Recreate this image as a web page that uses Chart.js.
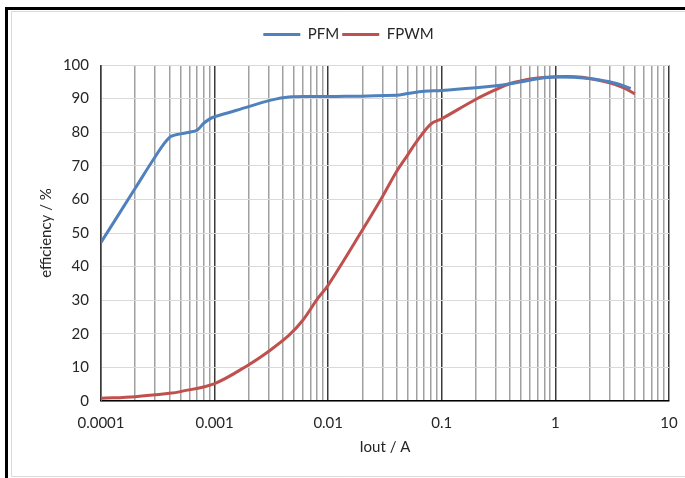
<!DOCTYPE html>
<html>
<head>
<meta charset="utf-8">
<script src="https://cdn.jsdelivr.net/npm/chart.js@4"></script>
<style>
html,body{margin:0;padding:0;background:#fff;}
#wrap{position:relative;width:685px;height:478px;}
</style>
</head>
<body>
<div id="wrap"><canvas id="c" width="685" height="478"></canvas></div>
<script>
// ---- data ----
const pfmCurrent = [0.0001, 0.0002, 0.0003, 0.0004, 0.0005, 0.0006, 0.0007, 0.0008, 0.0009, 0.001, 0.002, 0.003, 0.0045, 0.01, 0.04, 0.05, 0.07, 0.1, 0.2, 0.3, 0.4, 0.5, 0.7, 1, 2, 3, 4, 4.6];
const pfmEff     = [47.2, 63.3, 72.7, 78.4, 79.5, 80.0, 80.6, 82.6, 83.9, 84.6, 87.6, 89.4, 90.5, 90.6, 91.0, 91.5, 92.2, 92.4, 93.2, 93.8, 94.4, 95.0, 95.9, 96.4, 96.0, 95.0, 93.8, 93.0];
const fpwmCurrent = [0.0001, 0.0002, 0.0004, 0.0005, 0.001, 0.002, 0.003, 0.0045, 0.006, 0.008, 0.01, 0.02, 0.03, 0.04, 0.05, 0.06, 0.08, 0.1, 0.2, 0.3, 0.4, 0.5, 0.7, 1, 1.5, 2, 3, 4, 5];
const fpwmEff     = [0.8, 1.3, 2.3, 2.8, 5.2, 10.8, 14.8, 19.5, 24.1, 30.3, 34.5, 50.9, 60.8, 68.3, 73.2, 77.2, 82.4, 84.0, 89.8, 92.7, 94.5, 95.3, 96.1, 96.5, 96.5, 96.0, 94.7, 93.2, 91.4];
const seriesNames = ['PFM', 'FPWM'];
const xDecades    = [0.0001, 0.001, 0.01, 0.1, 1, 10];
const xTickLabels = ['0.0001', '0.001', '0.01', '0.1', '1', '10'];
const yTickValues = [0, 10, 20, 30, 40, 50, 60, 70, 80, 90, 100];
const xTitle = 'Iout / A';
const yTitle = 'efficiency / %';

// ---- build tick lists (gridlines at 1..9 of each decade) ----
const xGridValues = [];
for (let i = 0; i < xDecades.length - 1; i++) {
  for (let m = 1; m <= 9; m++) xGridValues.push(+(xDecades[i] * m).toPrecision(6));
}
xGridValues.push(xDecades[xDecades.length - 1]);

function decadeIndex(v) {
  for (let i = 0; i < xDecades.length; i++) {
    if (Math.abs(v - xDecades[i]) / xDecades[i] < 1e-6) return i;
  }
  return -1;
}

const FONT = 'Lato, "Open Sans", sans-serif';
const TEXT = '#262626';

const framePlugin = {
  id: 'frame',
  beforeDraw(chart) {
    const ctx = chart.ctx;
    ctx.save();
    ctx.fillStyle = '#fff';
    ctx.fillRect(0, 0, chart.width, chart.height);
    ctx.strokeStyle = '#d9d9d9';
    ctx.lineWidth = 1;
    ctx.beginPath();
    ctx.moveTo(chart.width + 5, 11.5);
    ctx.lineTo(11.5, 11.5);
    ctx.lineTo(11.5, 476.5);
    ctx.lineTo(chart.width + 5, 476.5);
    ctx.stroke();
    ctx.fillStyle = '#000';
    ctx.fillRect(5, 7, chart.width, 3);
    ctx.fillRect(5, 7, 3, chart.height);
    ctx.restore();
  }
};

const legendPlacePlugin = {
  id: 'legendPlace',
  beforeInit(chart) {
    const origFit = chart.legend.fit;
    chart.legend.fit = function () {
      origFit.call(this);
      this.height = 41;
    };
  },
  afterLayout(chart) {
    const lg = chart.legend;
    if (lg) { lg.left += 14; lg.right += 14; }
  }
};

new Chart(document.getElementById('c'), {
  type: 'line',
  data: {
    datasets: [
      {
        label: seriesNames[0],
        data: pfmCurrent.map((x, i) => ({ x: x, y: pfmEff[i] })),
        borderColor: '#4F81BD',
        backgroundColor: '#4F81BD',
        borderWidth: 3,
        pointRadius: 0,
        tension: 0.35,
        fill: false
      },
      {
        label: seriesNames[1],
        data: fpwmCurrent.map((x, i) => ({ x: x, y: fpwmEff[i] })),
        borderColor: '#C0504D',
        backgroundColor: '#C0504D',
        borderWidth: 3,
        pointRadius: 0,
        tension: 0.35,
        fill: false
      }
    ]
  },
  options: {
    responsive: false,
    animation: false,
    devicePixelRatio: 1,
    layout: { padding: { top: 24, left: 0, right: 16, bottom: 0 } },
    plugins: {
      legend: {
        position: 'top',
        align: 'center',
        labels: {
          usePointStyle: true,
          pointStyle: 'line',
          pointStyleWidth: 37,
          padding: 3,
          color: TEXT,
          font: { family: FONT, size: 15 }
        }
      },
      tooltip: { enabled: false }
    },
    scales: {
      x: {
        type: 'logarithmic',
        min: xDecades[0],
        max: xDecades[xDecades.length - 1],
        afterBuildTicks(scale) {
          scale.ticks = xGridValues.map(v => ({ value: v, major: decadeIndex(v) >= 0 }));
        },
        afterFit(scale) { scale.height = 77; scale.paddingRight = 0; },
        ticks: {
          autoSkip: false,
          maxRotation: 0,
          padding: 13,
          color: TEXT,
          font: { family: FONT, size: 15 },
          callback(value) {
            const i = decadeIndex(value);
            return i >= 0 ? xTickLabels[i] : '';
          }
        },
        grid: {
          drawTicks: false,
          lineWidth: 1.5,
          color(ctx) {
            if (!ctx.tick) return '#a0a0a0';
            return decadeIndex(ctx.tick.value) >= 0 ? '#3a3a3a' : '#a0a0a0';
          }
        },
        border: { display: true, color: '#000', width: 1.5 },
        title: {
          display: true,
          text: xTitle,
          color: TEXT,
          font: { family: FONT, size: 15 },
          padding: { top: 0, bottom: 22 }
        }
      },
      y: {
        z: -1,
        min: yTickValues[0],
        max: yTickValues[yTickValues.length - 1],
        afterBuildTicks(scale) {
          scale.ticks = yTickValues.map(v => ({ value: v }));
        },
        afterFit(scale) { scale.width = 101; },
        ticks: {
          padding: 12,
          color: TEXT,
          font: { family: FONT, size: 15 }
        },
        grid: { drawTicks: false, color: '#d9d9d9', lineWidth: 1 },
        border: { display: true, color: '#6f6f6f', width: 1 },
        title: {
          display: true,
          text: yTitle,
          color: TEXT,
          font: { family: FONT, size: 15 },
          padding: { top: 37, bottom: 0 }
        }
      }
    }
  },
  plugins: [framePlugin, legendPlacePlugin]
});
</script>
</body>
</html>
